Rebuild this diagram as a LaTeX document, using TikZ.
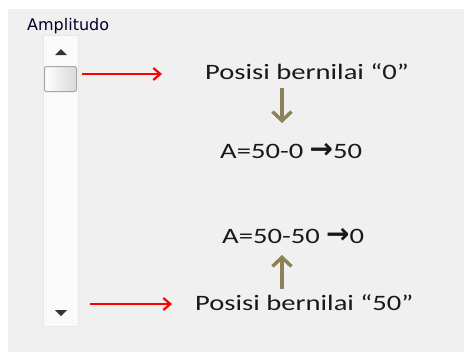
\documentclass[tikz,border=0pt]{standalone}
\usepackage{fontspec}
\setmainfont{Carlito}
\newfontfamily\lebar[FakeStretch=1.3]{Carlito}
\newfontfamily\uifont{DejaVu Sans}
\usetikzlibrary{arrows.meta}
\definecolor{panel}{HTML}{F0F0F0}
\definecolor{olijf}{RGB}{140,130,90}
\newcommand{\panahteks}{{\uifont\bfseries\fontsize{28}{28}\selectfont→}}

\begin{document}
\begin{tikzpicture}[x=1pt,y=-1pt]
 \tikzstyle{teks}=[inner sep=0pt,anchor=base west,text=black!90,font=\lebar\fontsize{22}{26}\selectfont]
 \tikzstyle{merah}=[-{Straight Barb[length=7pt,width=12pt]},red,line width=2.2pt]
 \tikzstyle{tunjuk}=[-{Straight Barb[length=9pt,width=19pt]},olijf,line width=3.5pt]
 \useasboundingbox (0,0) rectangle (464,354);
 \fill[panel] (8,9) rectangle (464,352);
 % scrollbar
 \draw[gray!18,fill=gray!4] (43,35) rectangle (78,326);
 \node[draw=gray!70,line width=1pt,rounded corners=2pt,left color=white,right color=gray!30,
  minimum width=32pt,minimum height=25pt,inner sep=0pt] (thumb) at (60.5,79) {};
 \fill[gray!40!black] (55,55) -- (61,49) -- (67,55) -- cycle;
 \fill[gray!40!black] (55,310) -- (61,316) -- (67,310) -- cycle;
 \node[inner sep=0pt,anchor=base west,text=black!85!blue,font=\uifont\fontsize{16}{18}\selectfont] (judul) at (27,30) {Amplitudo};
 % teks
 \node[teks] (pos0) at (205,79) {Posisi bernilai “0”};
 \node[teks] (rumus0) at (220,158) {A=50-0 \panahteks50};
 \node[teks] (rumus50) at (222,243) {A=50-50 \panahteks0};
 \node[teks] (pos50) at (195,310) {Posisi bernilai “50”};
 \coordinate (m0) at (82,74);
 \coordinate (m50) at (90,304);
 \draw[merah] (m0) -- ([shift={(-43,-5)}]pos0.base west);
 \draw[merah] (m50) -- ([shift={(-23,-6)}]pos50.base west);
 \draw[tunjuk] ([shift={(77,9)}]pos0.base west) -- ([shift={(62,-35)}]rumus0.base west);
 \draw[tunjuk] ([shift={(87,-21)}]pos50.base west) -- ([shift={(60,12)}]rumus50.base west);
\end{tikzpicture}
\end{document}
